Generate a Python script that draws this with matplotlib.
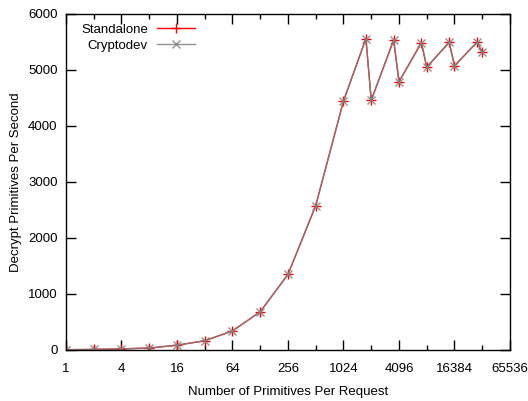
import matplotlib
matplotlib.use('Agg')
from matplotlib import pyplot as plt
from matplotlib.ticker import FixedLocator, NullFormatter

plt.rcParams['font.family'] = ['Liberation Sans', 'DejaVu Sans']

# Data
sizes = [1, 2, 4, 8, 16, 32, 64, 128, 256, 512, 1024, 1792, 2048,
         3584, 4096, 7168, 8192, 14336, 16384, 28672, 32768]
standalone = [5, 10, 20, 35, 85, 166, 340, 684, 1350, 2580, 4446, 5560, 4460,
              5536, 4790, 5488, 5050, 5494, 5075, 5494, 5316]
cryptodev = [5, 10, 20, 35, 85, 166, 340, 684, 1350, 2580, 4446, 5560, 4460,
             5536, 4790, 5488, 5050, 5494, 5075, 5494, 5316]

major_x = [1, 4, 16, 64, 256, 1024, 4096, 16384, 65536]
minor_x = [2, 8, 32, 128, 512, 2048, 8192, 32768]

fig = plt.figure(figsize=(5.28, 4.01), dpi=100)
ax = fig.add_axes([0.125, 0.1272, 0.8409, 0.8379])

ax.plot(sizes, standalone, color='#ff0000', lw=1, marker='+', markersize=7,
        markeredgewidth=1, label='Standalone')
ax.plot(sizes, cryptodev, color='#808080', lw=1, marker='x', markersize=6,
        markeredgewidth=1, alpha=0.85, label='Cryptodev')

ax.set_xscale('log', base=2)
ax.set_xlim(1, 65536)
ax.set_ylim(0, 6000)
ax.xaxis.set_major_locator(FixedLocator(major_x))
ax.xaxis.set_minor_locator(FixedLocator(minor_x))
ax.xaxis.set_minor_formatter(NullFormatter())
ax.set_xticklabels([str(v) for v in major_x])
ax.set_yticks(range(0, 6001, 1000))

ax.tick_params(which='both', direction='in', top=True, right=True,
               labelsize=9.5, width=1)
ax.tick_params(axis='y', pad=6)
ax.tick_params(axis='x', pad=9.5)
ax.tick_params(which='major', length=7)
ax.tick_params(which='minor', length=3.5)
for s in ax.spines.values():
    s.set_linewidth(1)

ax.set_xlabel('Number of Primitives Per Request', fontsize=9.5, labelpad=7.5)
ax.set_ylabel('Decrypt Primitives Per Second', fontsize=9.5)

ax.legend(loc='upper left', frameon=False, markerfirst=False, fontsize=9.5,
          handlelength=2.9, handletextpad=0.7, borderpad=0, borderaxespad=0,
          labelspacing=0.29, bbox_to_anchor=(0.034, 0.972))

fig.savefig('out.png', dpi=100)
